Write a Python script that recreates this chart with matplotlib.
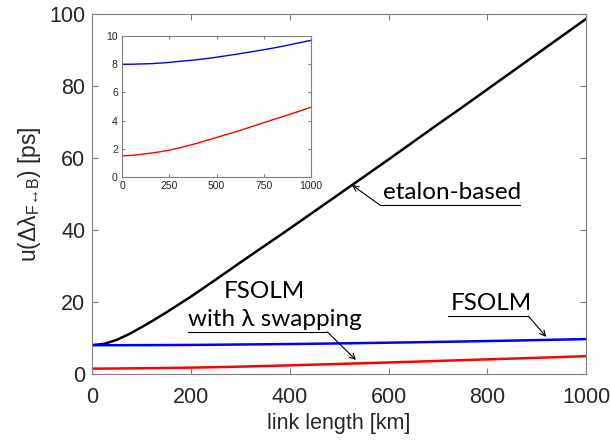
import matplotlib
matplotlib.use("Agg")
import matplotlib.pyplot as plt

plt.rcParams["font.family"] = ["Liberation Sans", "DejaVu Sans"]
plt.rcParams["mathtext.default"] = "regular"

# link length [km]
length_km = [0, 25, 50, 75, 100, 125, 150, 175, 200, 250, 300, 350, 400, 450, 500,
             550, 600, 650, 700, 750, 800, 850, 900, 950, 1000]
# etalon-based uncertainty [ps]
etalon = [8.0, 8.4, 9.5, 11.1, 13.0, 15.0, 17.1, 19.3, 21.5, 26.2, 31.0, 35.7, 40.4,
          45.2, 50.0, 54.8, 59.6, 64.5, 69.4, 74.2, 79.1, 84.0, 88.9, 93.8, 98.7]
# FSOLM [ps]
fsolm = [8.00, 8.00, 8.00, 8.01, 8.02, 8.03, 8.04, 8.06, 8.08, 8.13, 8.20, 8.26, 8.33,
         8.41, 8.50, 8.60, 8.70, 8.81, 8.92, 9.03, 9.15, 9.28, 9.42, 9.56, 9.70]
# FSOLM with lambda swapping [ps]
fsolm_swap = [1.50, 1.51, 1.53, 1.56, 1.60, 1.64, 1.68, 1.73, 1.78, 1.90, 2.05, 2.22,
              2.40, 2.60, 2.80, 3.00, 3.20, 3.41, 3.63, 3.85, 4.07, 4.28, 4.50, 4.72, 4.95]

SPINE = "#808080"
TXT = "#262626"

fig = plt.figure(figsize=(6.1, 4.4), dpi=100)
ax = fig.add_axes([0.151, 0.150, 0.810, 0.818])

ax.plot(length_km, etalon, color="black", lw=1.8)
ax.plot(length_km, fsolm, color="#0000ff", lw=1.8)
ax.plot(length_km, fsolm_swap, color="#ff0000", lw=1.8)

ax.set_xlim(0, 1000)
ax.set_ylim(0, 100)
ax.set_xticks(range(0, 1001, 200))
ax.set_yticks(range(0, 101, 20))
ax.tick_params(direction="in", top=True, right=True, labelsize=15.5,
               colors=SPINE, labelcolor=TXT, length=4, pad=5)
ax.tick_params(axis="x", pad=9)
for s in ax.spines.values():
    s.set_color(SPINE)
ax.set_xlabel("link length [km]", fontsize=15.5, color=TXT, labelpad=4)
ax.set_ylabel("u(\u0394\u03bb$_{F\u2194B}$) [ps]", fontsize=16.5,
              color=TXT, labelpad=4)

# annotations (Calibri-like)
afont = dict(family=["Lato", "DejaVu Sans"], fontsize=17.5, color="black")
arrow = dict(arrowstyle="->", color="black", lw=0.8, shrinkA=0, shrinkB=0)

ax.annotate("", xy=(526, 52.5), xytext=(583, 46.9), arrowprops=arrow)
ax.plot([583, 866], [46.9, 46.9], color="black", lw=0.8)
ax.text(589, 47.6, "etalon-based", ha="left", va="bottom", **afont)

ax.annotate("", xy=(919, 10.3), xytext=(883, 16.1), arrowprops=arrow)
ax.plot([721, 883], [16.1, 16.1], color="black", lw=0.8)
ax.text(725, 16.8, "FSOLM", ha="left", va="bottom", **afont)

ax.annotate("", xy=(534, 3.9), xytext=(476, 11.7), arrowprops=arrow)
ax.plot([194, 476], [11.7, 11.7], color="black", lw=0.8)
ax.text(194, 12.3, "with \u03bb swapping", ha="left", va="bottom", **afont)
ax.text(348, 20.0, "FSOLM", ha="center", va="bottom", **afont)

# inset
ins = fig.add_axes([0.200, 0.598, 0.310, 0.320])
ins.plot(length_km, fsolm, color="#0000ff", lw=1.0)
ins.plot(length_km, fsolm_swap, color="#ff0000", lw=1.0)
ins.set_xlim(0, 1000)
ins.set_ylim(0, 10)
ins.set_xticks(range(0, 1001, 250))
ins.set_yticks(range(0, 11, 2))
ins.tick_params(direction="in", top=True, right=True, labelsize=7.5,
                colors=SPINE, labelcolor=TXT, length=2.5, pad=3)
for s in ins.spines.values():
    s.set_color(SPINE)

fig.savefig("out.png", dpi=100)
